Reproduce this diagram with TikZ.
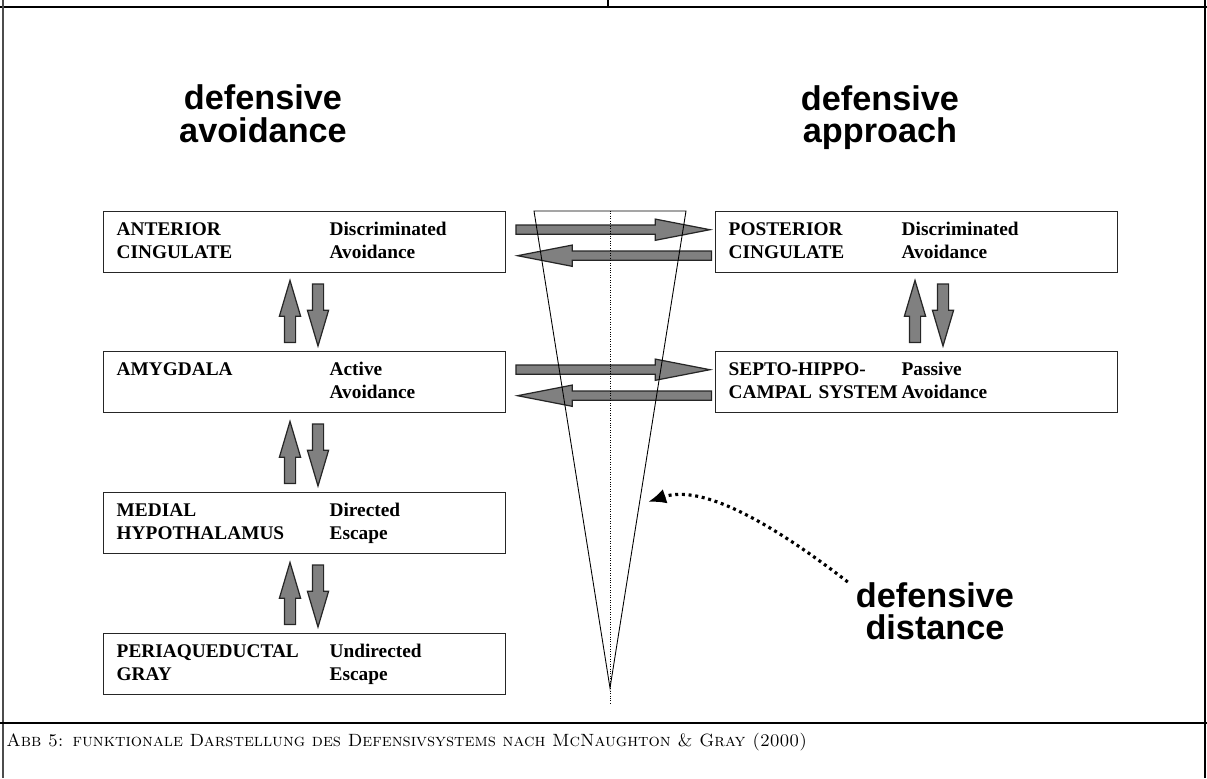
\documentclass[tikz,border=0pt]{standalone}
\usepackage{fontspec}
\newfontfamily\boxfont{Liberation Serif}
\newfontfamily\headfont{Liberation Sans}
\usepackage{tikz}
\usetikzlibrary{positioning,calc,shapes.arrows,arrows.meta}

\begin{document}
\begin{tikzpicture}[x=0.02cm,y=-0.02cm]
\tikzstyle{region}=[rectangle, draw=black!85, line width=0.8pt, anchor=north west, minimum width=8.04cm, minimum height=1.22cm, text width=7.52cm, inner xsep=0.26cm, align=left, font=\boxfont\bfseries\fontsize{11}{13.6}\selectfont]
\tikzstyle{head}=[align=center, font=\headfont\bfseries\fontsize{19.5}{18.5}\selectfont]
\tikzstyle{hflow}=[single arrow, draw=black!85, fill=black!50, line width=0.7pt, inner xsep=0pt, inner ysep=0.08cm, minimum height=3.88cm, single arrow head extend=0.12cm, single arrow tip angle=22]
\tikzstyle{vflow}=[single arrow, draw=black!85, fill=black!50, line width=0.7pt, inner xsep=0pt, inner ysep=0.1cm, minimum height=1.24cm, single arrow head extend=0.1cm, single arrow tip angle=33]
\tikzstyle{pointer}=[-{Latex[length=0.36cm,width=0.3cm]}, line width=1.8pt, dash pattern=on 1.7pt off 2.1pt]
\useasboundingbox (0,0) rectangle (1207,778);
  % frame
  \draw[line width=1pt] (0,7) -- (1207,7);
  \draw[line width=0.6pt] (608,0) -- (608,7);
  \draw[line width=0.8pt, black!70] (3,0) -- (3,778);
  \draw[line width=0.8pt] (1205,0) -- (1205,778);
  \draw[line width=0.8pt] (0,723) -- (1207,723);
  % headings
  \node[head] (avoid) at (263,114) {defensive\\avoidance};
  \node[head] (approach) at (880,117.5) {defensive\\approach};
  % left column
  \node[region] (antcing) at (103,211) {\begin{tabular}{@{}p{4.26cm}@{}l@{}}ANTERIOR & Discriminated\\CINGULATE & Avoidance\end{tabular}};
  \node[region] (amyg) at (103,351) {\begin{tabular}{@{}p{4.26cm}@{}l@{}}AMYGDALA & Active\\ & Avoidance\end{tabular}};
  \node[region] (medhyp) at (103,492) {\begin{tabular}{@{}p{4.26cm}@{}l@{}}MEDIAL & Directed\\HYPOTHALAMUS & Escape\end{tabular}};
  \node[region] (pag) at (103,633) {\begin{tabular}{@{}p{4.26cm}@{}l@{}}PERIAQUEDUCTAL & Undirected\\GRAY & Escape\end{tabular}};
  % right column
  \node[region] (postcing) at (715,211) {\begin{tabular}{@{}p{3.46cm}@{}l@{}}POSTERIOR & Discriminated\\CINGULATE & Avoidance\end{tabular}};
  \node[region] (septo) at (715,351) {\begin{tabular}{@{}p{3.46cm}@{}l@{}}SEPTO-HIPPO- & Passive\\CAMPAL SYSTEM & Avoidance\end{tabular}};
  % vertical arrows
  \node[vflow, anchor=tail, rotate=90] (up1) at ($(amyg.north west)+(187,-8)$) {};
  \node[vflow, anchor=tail, rotate=-90] (dn1) at ($(antcing.south west)+(215,10)$) {};
  \node[vflow, anchor=tail, rotate=90] (up2) at ($(medhyp.north west)+(187,-8)$) {};
  \node[vflow, anchor=tail, rotate=-90] (dn2) at ($(amyg.south west)+(215,10)$) {};
  \node[vflow, anchor=tail, rotate=90] (up3) at ($(pag.north west)+(187,-8)$) {};
  \node[vflow, anchor=tail, rotate=-90] (dn3) at ($(medhyp.south west)+(215,10)$) {};
  \node[vflow, anchor=tail, rotate=90] (up4) at ($(septo.north west)+(200,-8)$) {};
  \node[vflow, anchor=tail, rotate=-90] (dn4) at ($(postcing.south west)+(228,10)$) {};
  % horizontal arrows
  \node[hflow, anchor=tail] (ac2pc) at ($(antcing.east)+(9,-12.5)$) {};
  \node[hflow, anchor=tip, shape border rotate=180] (pc2ac) at ($(antcing.east)+(8,13.5)$) {};
  \node[hflow, anchor=tail] (am2sh) at ($(amyg.east)+(9,-12.5)$) {};
  \node[hflow, anchor=tip, shape border rotate=180] (sh2am) at ($(amyg.east)+(8,13.5)$) {};
  % distance cone
  \draw[line width=0.5pt] (534,211) -- (686,211) -- (610,688) -- cycle;
  \draw[line width=0.4pt, densely dotted] (610,211) -- (610,705);
  \coordinate (conept) at (648,502);
  \node[head] (dist) at (935,611) {defensive\\distance};
  \draw[pointer] ([xshift=-0.04cm,yshift=-0.12cm]dist.north west) .. controls (770,522) and (702,484) .. (conept);
  % caption
  \node[anchor=base west, inner sep=0pt, font=\fontsize{10.1}{12}\selectfont] (caption) at (6,746) {\textsc{Abb 5: funktionale Darstellung des Defensivsystems nach McNaughton \& Gray (2000)}};
\end{tikzpicture}
\end{document}
